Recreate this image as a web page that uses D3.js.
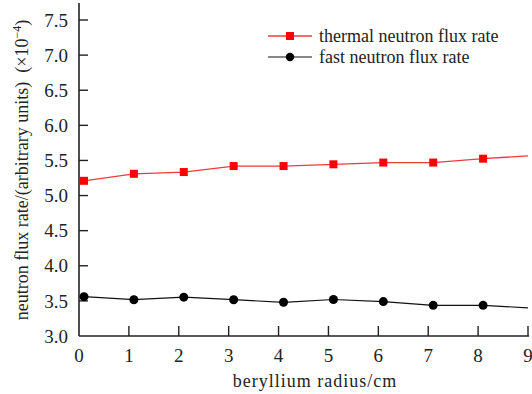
<!DOCTYPE html>
<html><head><meta charset="utf-8">
<script src="https://cdn.jsdelivr.net/npm/d3@7"></script>
<style>body{margin:0;background:#fff}</style>
</head><body>
<svg id="c" width="532" height="394"></svg>
<script>
const xs = [0.1,1.1,2.1,3.1,4.1,5.1,6.1,7.1,8.1];
const thermal = [5.21,5.31,5.335,5.42,5.42,5.445,5.47,5.47,5.525];
const fast = [3.56,3.517,3.553,3.517,3.48,3.52,3.49,3.437,3.437];
const endX = 9;
const thermalEnd = 5.565;
const fastEnd = 3.40;
const xTicks = [0,1,2,3,4,5,6,7,8,9];
const yTicks = [3.0,3.5,4.0,4.5,5.0,5.5,6.0,6.5,7.0,7.5];
const seriesNames = ["thermal neutron flux rate","fast neutron flux rate"];

const svg = d3.select("#c");
const font = "Liberation Serif, Times New Roman, serif";
const x = d3.scaleLinear().domain([0,9]).range([79,528]);
const y = d3.scaleLinear().domain([3,7.5]).range([336,20]);

// axes
const ax = svg.append("g").style("font-family",font);
ax.append("line").attr("x1",79).attr("x2",79).attr("y1",3).attr("y2",336).attr("stroke","#222").attr("stroke-width",1.6);
ax.append("line").attr("x1",79).attr("x2",529).attr("y1",336).attr("y2",336).attr("stroke","#222").attr("stroke-width",1.6);
yTicks.forEach(t=>{
  if(t>3) ax.append("line").attr("x1",79).attr("x2",88).attr("y1",y(t)).attr("y2",y(t)).attr("stroke","#222").attr("stroke-width",1.4);
  ax.append("text").attr("x",68).attr("y",y(t)).attr("dy","0.35em").attr("text-anchor","end").attr("font-size",19).attr("fill","#222").text(d3.format(".1f")(t));
});
xTicks.forEach(t=>{
  if(t>0) ax.append("line").attr("x1",x(t)).attr("x2",x(t)).attr("y1",336).attr("y2",326).attr("stroke","#222").attr("stroke-width",1.4);
  ax.append("text").attr("x",x(t)).attr("y",362).attr("text-anchor","middle").attr("font-size",19).attr("fill","#222").text(t);
});
ax.append("text").attr("x",315).attr("y",387).attr("text-anchor","middle").attr("font-size",18).attr("letter-spacing","1px").attr("fill","#222").text("beryllium radius/cm");
ax.append("text").attr("transform","translate(28,170) rotate(-90)").attr("text-anchor","middle").attr("font-size",18).attr("fill","#222")
  .html("neutron flux rate/(arbitrary units)&#160;&#160;(×10<tspan dy='-7' font-size='12'>−4</tspan><tspan dy='7'>)</tspan>");

const line = d3.line().x(d=>x(d[0])).y(d=>y(d[1]));
const tData = xs.map((v,i)=>[v,thermal[i]]).concat([[endX,thermalEnd]]);
const fData = xs.map((v,i)=>[v,fast[i]]).concat([[endX,fastEnd]]);
svg.append("path").attr("d",line(tData)).attr("fill","none").attr("stroke","#f03a3a").attr("stroke-width",1.3);
svg.append("path").attr("d",line(fData)).attr("fill","none").attr("stroke","#111").attr("stroke-width",1.2);
svg.selectAll("rect.t").data(xs.map((v,i)=>[v,thermal[i]])).join("rect")
  .attr("x",d=>x(d[0])-4).attr("y",d=>y(d[1])-4).attr("width",8).attr("height",8).attr("fill","#ff0000");
svg.selectAll("circle.f").data(xs.map((v,i)=>[v,fast[i]])).join("circle")
  .attr("cx",d=>x(d[0])).attr("cy",d=>y(d[1])).attr("r",4.5).attr("fill","#000");

// legend
const lg = svg.append("g").style("font-family",font);
lg.append("line").attr("x1",268).attr("x2",312).attr("y1",36).attr("y2",36).attr("stroke","#f03a3a").attr("stroke-width",1.3);
lg.append("rect").attr("x",286).attr("y",32).attr("width",8).attr("height",8).attr("fill","#ff0000");
lg.append("text").attr("x",319).attr("y",42).attr("font-size",18).attr("fill","#222").text(seriesNames[0]);
lg.append("line").attr("x1",268).attr("x2",312).attr("y1",57).attr("y2",57).attr("stroke","#111").attr("stroke-width",1.2);
lg.append("circle").attr("cx",290).attr("cy",57).attr("r",4.2).attr("fill","#000");
lg.append("text").attr("x",319).attr("y",63).attr("font-size",18).attr("fill","#222").text(seriesNames[1]);
</script>
</body></html>
